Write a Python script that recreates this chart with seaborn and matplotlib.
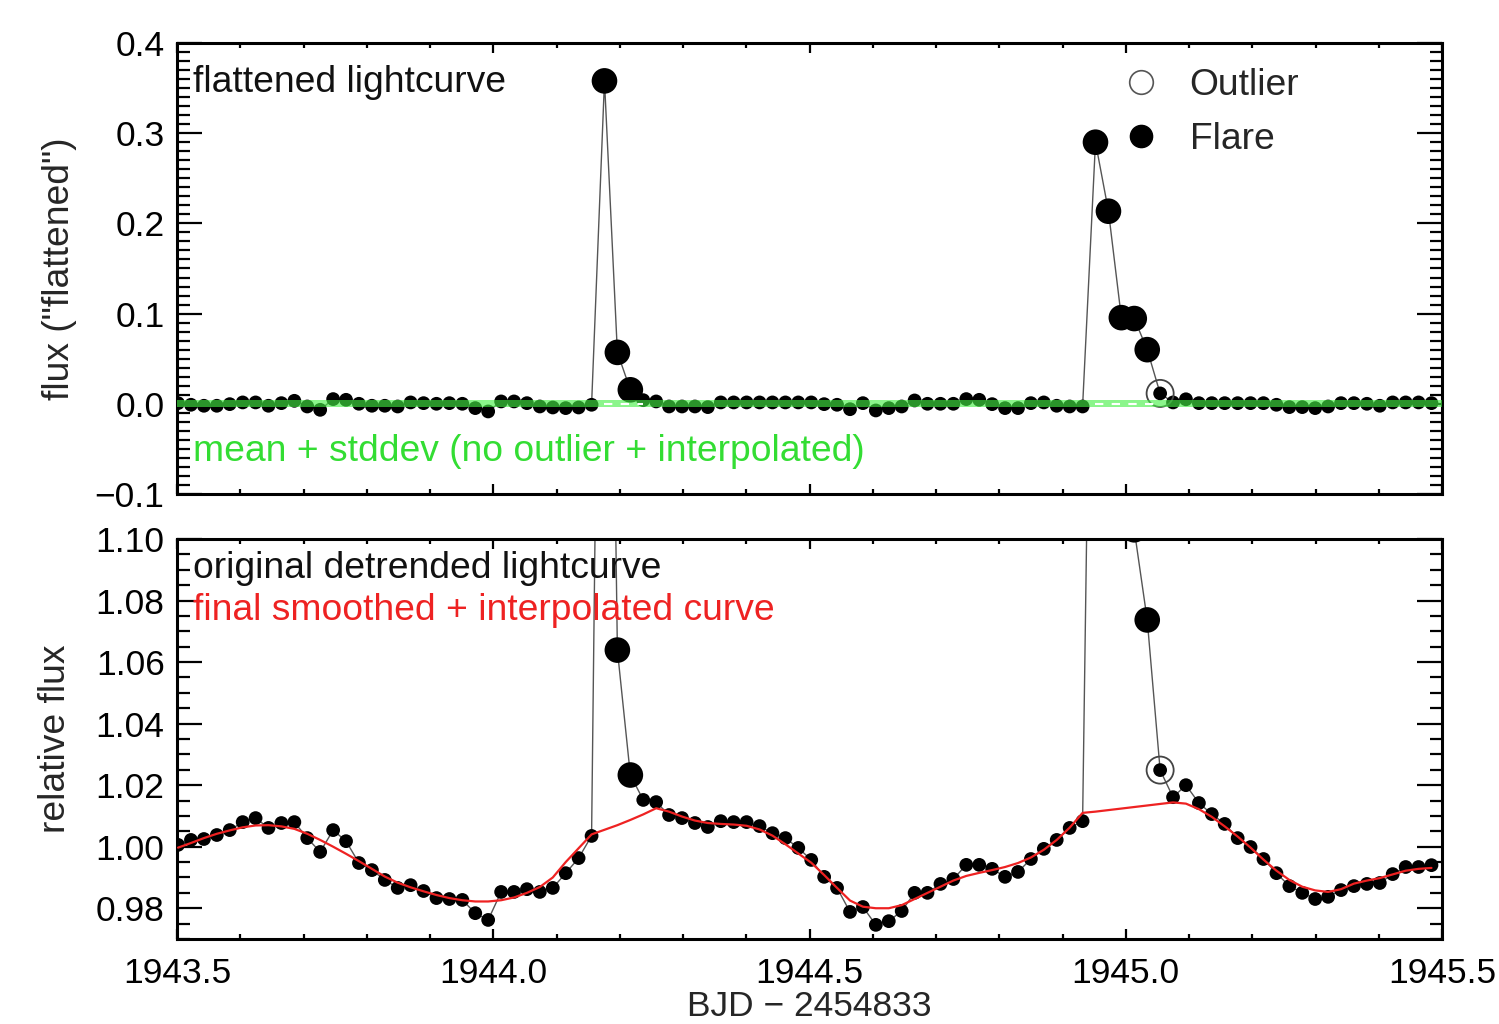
import numpy as np
import pandas as pd
import matplotlib
matplotlib.use("Agg")
import matplotlib.pyplot as plt
from matplotlib.lines import Line2D
from matplotlib.ticker import MultipleLocator, FuncFormatter
import seaborn as sns

# ---------------- data ----------------
times = [
    1943.5016, 1943.5220, 1943.5425, 1943.5629, 1943.5833, 1943.6038, 1943.6242, 1943.6446,
    1943.6650, 1943.6855, 1943.7059, 1943.7263, 1943.7468, 1943.7672, 1943.7876, 1943.8081,
    1943.8285, 1943.8489, 1943.8693, 1943.8898, 1943.9102, 1943.9306, 1943.9511, 1943.9715,
    1943.9919, 1944.0124, 1944.0328, 1944.0532, 1944.0736, 1944.0941, 1944.1145, 1944.1349,
    1944.1554, 1944.1758, 1944.1962, 1944.2167, 1944.2371, 1944.2575, 1944.2779, 1944.2984,
    1944.3188, 1944.3392, 1944.3597, 1944.3801, 1944.4005, 1944.4210, 1944.4414, 1944.4618,
    1944.4822, 1944.5027, 1944.5231, 1944.5435, 1944.5640, 1944.5844, 1944.6048, 1944.6253,
    1944.6457, 1944.6661, 1944.6865, 1944.7070, 1944.7274, 1944.7478, 1944.7683, 1944.7887,
    1944.8091, 1944.8296, 1944.8500, 1944.8704, 1944.8908, 1944.9113, 1944.9317, 1944.9521,
    1944.9726, 1944.9930, 1945.0134, 1945.0339, 1945.0543, 1945.0747, 1945.0951, 1945.1156,
    1945.1360, 1945.1564, 1945.1769, 1945.1973, 1945.2177, 1945.2382, 1945.2586, 1945.2790,
    1945.2994, 1945.3199, 1945.3403, 1945.3607, 1945.3812, 1945.4016, 1945.4220, 1945.4425,
    1945.4629, 1945.4833,
]

flat_flux = [
    0.0007, -0.0011, -0.0022, -0.0022, -0.0004, 0.0015, 0.0015, -0.0022,
    0.0007, 0.0033, -0.0030, -0.0067, 0.0052, 0.0044, 0.0000, -0.0022,
    -0.0022, -0.0030, 0.0015, 0.0007, 0.0000, 0.0007, 0.0000, -0.0048,
    -0.0085, 0.0026, 0.0026, 0.0007, -0.0030, -0.0041, -0.0048, -0.0041,
    -0.0011, 0.3580, 0.0570, 0.0155, 0.0040, 0.0026, -0.0030, -0.0030,
    -0.0030, -0.0037, 0.0015, 0.0015, 0.0015, 0.0015, 0.0015, 0.0015,
    0.0015, 0.0015, -0.0004, -0.0011, -0.0060, 0.0007, -0.0074, -0.0048,
    -0.0030, 0.0037, 0.0000, 0.0000, 0.0000, 0.0052, 0.0044, -0.0004,
    -0.0048, -0.0048, 0.0007, 0.0015, -0.0022, -0.0030, -0.0030, 0.2900,
    0.2135, 0.0955, 0.0945, 0.0600, 0.0115, 0.0015, 0.0050, 0.0007,
    0.0007, 0.0007, 0.0007, 0.0007, 0.0007, -0.0011, -0.0037, -0.0037,
    -0.0048, -0.0030, 0.0007, 0.0007, 0.0000, -0.0022, 0.0015, 0.0015,
    0.0015, 0.0007,
]

rel_flux = [
    1.0006, 1.0022, 1.0025, 1.0038, 1.0054, 1.0080, 1.0093, 1.0061,
    1.0077, 1.0080, 1.0028, 0.9983, 1.0054, 1.0018, 0.9947, 0.9924,
    0.9892, 0.9866, 0.9875, 0.9856, 0.9833, 0.9830, 0.9827, 0.9784,
    0.9762, 0.9853, 0.9853, 0.9862, 0.9853, 0.9866, 0.9914, 0.9963,
    1.0035, 1.3700, 1.0639, 1.0233, 1.0152, 1.0145, 1.0103, 1.0093,
    1.0077, 1.0064, 1.0083, 1.0080, 1.0080, 1.0067, 1.0044, 1.0028,
    0.9996, 0.9957, 0.9902, 0.9866, 0.9788, 0.9804, 0.9746, 0.9758,
    0.9791, 0.9850, 0.9850, 0.9879, 0.9895, 0.9941, 0.9941, 0.9928,
    0.9902, 0.9918, 0.9960, 0.9993, 1.0022, 1.0061, 1.0083, 1.3050,
    1.2280, 1.1080, 1.1030, 1.0737, 1.0249, 1.0161, 1.0200, 1.0142,
    1.0106, 1.0074, 1.0028, 0.9999, 0.9960, 0.9914, 0.9872, 0.9850,
    0.9830, 0.9837, 0.9859, 0.9872, 0.9879, 0.9882, 0.9911, 0.9934,
    0.9934, 0.9940,
]

smooth_flux = [
    0.9997, 1.0012, 1.0028, 1.0042, 1.0053, 1.0063, 1.0069, 1.0070,
    1.0066, 1.0058, 1.0042, 1.0022, 1.0000, 0.9977, 0.9953, 0.9928,
    0.9903, 0.9883, 0.9868, 0.9855, 0.9843, 0.9833, 0.9826, 0.9822,
    0.9822, 0.9826, 0.9835, 0.9850, 0.9869, 0.9900, 0.9950, 0.9995,
    1.0040, 1.0055, 1.0070, 1.0087, 1.0105, 1.0125, 1.0114, 1.0098,
    1.0085, 1.0077, 1.0074, 1.0072, 1.0068, 1.0056, 1.0036, 1.0008,
    0.9978, 0.9948, 0.9908, 0.9866, 0.9825, 0.9805, 0.9800, 0.9800,
    0.9810, 0.9830, 0.9850, 0.9870, 0.9890, 0.9905, 0.9915, 0.9924,
    0.9934, 0.9947, 0.9965, 0.9990, 1.0022, 1.0062, 1.0110, 1.0114,
    1.0119, 1.0124, 1.0129, 1.0134, 1.0139, 1.0144, 1.0140, 1.0122,
    1.0097, 1.0066, 1.0033, 0.9997, 0.9958, 0.9922, 0.9892, 0.9870,
    0.9858, 0.9853, 0.9862, 0.9880, 0.9890, 0.9898, 0.9910, 0.9922,
    0.9928, 0.9931,
]

flare_idx = [33, 34, 35, 71, 72, 73, 74, 75]
outlier_idx = [76]
interp_idx_1 = [33, 34, 35, 36]
interp_idx_2 = [71, 72, 73, 74, 75, 76]
band_mean = 0.0
band_std = 0.004

xticks = [1943.5, 1944.0, 1944.5, 1945.0, 1945.5]

df = pd.DataFrame({"t": times, "flat": flat_flux, "rel": rel_flux, "smooth": smooth_flux})
is_flare = np.zeros(len(df), bool); is_flare[flare_idx] = True
df_flare = df[is_flare]
df_norm = df[~is_flare]
df_out = df.iloc[outlier_idx]

# ---------------- style ----------------
sns.set_theme(style="ticks")
plt.rcParams["font.family"] = ["Liberation Sans", "DejaVu Sans"]
FS = 25.5
FT = 26.8


def fmt(decimals):
    return FuncFormatter(lambda v, p: f"{v:.{decimals}f}".replace("-", "\u2212"))


fig = plt.figure(figsize=(14.99, 10.24), dpi=100)
ax1 = fig.add_axes([0.1181, 0.5176, 0.8439, 0.4404])
ax2 = fig.add_axes([0.1181, 0.0830, 0.8439, 0.3906])

line_col = "#555555"
small_s = 98
big_s = 340

# ---- top panel ----
sns.lineplot(data=df, x="t", y="flat", ax=ax1, color=line_col, lw=1.0,
             estimator=None, sort=False, zorder=2)
sns.scatterplot(data=df_norm, x="t", y="flat", ax=ax1, color="black", s=small_s,
                edgecolor="none", zorder=3)
sns.scatterplot(data=df_flare, x="t", y="flat", ax=ax1, color="black", s=big_s,
                edgecolor="none", zorder=3)
sns.scatterplot(data=df_out, x="t", y="flat", ax=ax1, facecolor="none", s=380,
                edgecolor="#444444", linewidth=1.3, zorder=4)
ax1.fill_between([xticks[0], xticks[-1]], band_mean - band_std, band_mean + band_std,
                 color="#44f044", alpha=0.62, lw=0, zorder=5)
for idx in (interp_idx_1, interp_idx_2):
    ax1.plot([times[idx[0]], times[idx[-1]]], [band_mean, band_mean], color="white",
             lw=1.5, ls=(0, (4, 4)), zorder=6)

ax1.set_xlim(xticks[0], xticks[-1])
ax1.set_ylim(-0.1, 0.4)
ax1.set_ylabel('flux ("flattened")', fontsize=FT, labelpad=13)
ax1.set_xlabel("")
ax1.yaxis.set_major_locator(MultipleLocator(0.1))
ax1.yaxis.set_minor_locator(MultipleLocator(0.01))
ax1.yaxis.set_major_formatter(fmt(1))
ax1.tick_params(axis="x", labelbottom=False)
ax1.text(0.0126, 0.9135, "flattened lightcurve", transform=ax1.transAxes,
         fontsize=FT, va="center", ha="left", color="#111111")
ax1.text(0.0126, 0.0931, "mean + stddev (no outlier + interpolated)", transform=ax1.transAxes,
         fontsize=FT, va="center", ha="left", color="#33dd33")

handles = [
    Line2D([], [], ls="none", marker="o", markersize=17, markerfacecolor="none",
           markeredgecolor="#555555", markeredgewidth=1.2),
    Line2D([], [], ls="none", marker="o", markersize=16, markerfacecolor="black",
           markeredgecolor="black"),
]
ax1.legend(handles, ["Outlier", "Flare"], loc="upper left", bbox_to_anchor=(0.718, 1.018),
           frameon=False, fontsize=FT, handlelength=1.2, handletextpad=0.7,
           labelspacing=0.5)

# ---- bottom panel ----
sns.lineplot(data=df, x="t", y="rel", ax=ax2, color=line_col, lw=1.0,
             estimator=None, sort=False, zorder=2)
sns.scatterplot(data=df_norm, x="t", y="rel", ax=ax2, color="black", s=small_s,
                edgecolor="none", zorder=3)
sns.scatterplot(data=df_flare, x="t", y="rel", ax=ax2, color="black", s=big_s,
                edgecolor="none", zorder=3)
sns.scatterplot(data=df_out, x="t", y="rel", ax=ax2, facecolor="none", s=380,
                edgecolor="#444444", linewidth=1.3, zorder=4)
sns.lineplot(data=df, x="t", y="smooth", ax=ax2, color="#ee2222", lw=1.6,
             estimator=None, sort=False, zorder=5)

ax2.set_xlim(xticks[0], xticks[-1])
ax2.set_ylim(0.97, 1.10)
ax2.set_ylabel("relative flux", fontsize=FT, labelpad=16)
ax2.set_xlabel("BJD \u2212 2454833", fontsize=FS, labelpad=0)
ax2.yaxis.set_major_locator(MultipleLocator(0.02))
ax2.yaxis.set_minor_locator(MultipleLocator(0.005))
ax2.yaxis.set_major_formatter(fmt(2))
ax2.set_xticks(xticks)
ax2.xaxis.set_major_formatter(fmt(1))
ax2.text(0.0126, 0.9275, "original detrended lightcurve", transform=ax2.transAxes,
         fontsize=FT, va="center", ha="left", color="#111111")
ax2.text(0.0126, 0.8225, "final smoothed + interpolated curve", transform=ax2.transAxes,
         fontsize=FT, va="center", ha="left", color="#ee2222")

for ax in (ax1, ax2):
    ax.set_xticks(xticks)
    ax.xaxis.set_minor_locator(MultipleLocator(0.1))
    for sp in ax.spines.values():
        sp.set_visible(True)
        sp.set_linewidth(2.2)
        sp.set_color("black")
    ax.tick_params(axis="both", which="both", direction="in", top=True, right=True,
                   colors="black", width=1.6)
    ax.tick_params(axis="x", which="major", length=7, pad=13, labelsize=FS)
    ax.tick_params(axis="x", which="minor", length=3.5)
    ax.tick_params(axis="y", which="major", length=18, pad=9, labelsize=FS)
    ax.tick_params(axis="y", which="minor", length=9)
    ax.set_facecolor("white")

fig.savefig("out.png", dpi=100, facecolor="white")
